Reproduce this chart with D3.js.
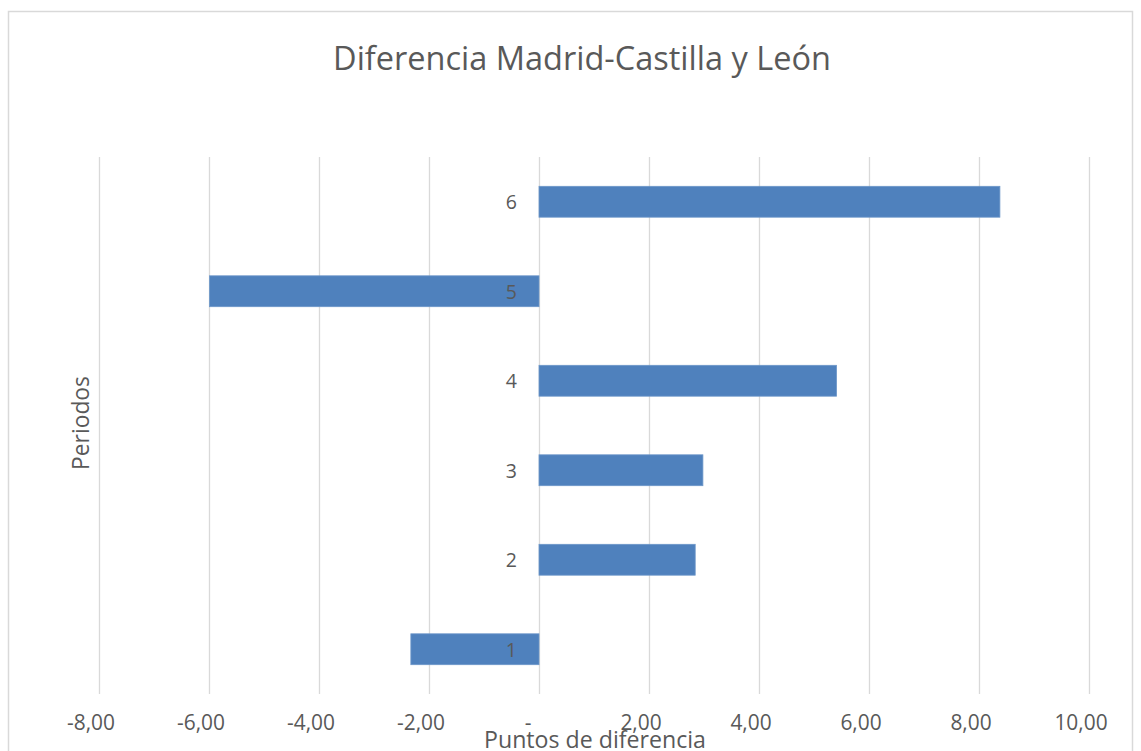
<!DOCTYPE html>
<html><head><meta charset="utf-8">
<script src="https://cdn.jsdelivr.net/npm/d3@7/dist/d3.min.js"></script>
<style>body{margin:0;background:#fff}svg{display:block}text{font-family:"Open Sans","Noto Sans",sans-serif;fill:#595959}</style>
</head><body><svg id="c" width="1141" height="751"></svg>
<script>
const categories = ["1","2","3","4","5","6"];
const values = [-2.33, 2.84, 2.98, 5.41, -5.99, 8.38];
const xTicks = [-8,-6,-4,-2,0,2,4,6,8,10];
const title = "Diferencia Madrid-Castilla y León";
const xTitle = "Puntos de diferencia";
const yTitle = "Periodos";

const svg = d3.select("#c");
const W = 1141, H = 751;
const m = {left:99, right:W-1089, top:157, bottom:H-694};

svg.append("rect").attr("x",8.5).attr("y",11.5).attr("width",1124).attr("height",760)
  .attr("fill","#fff").attr("stroke","#d9d9d9").attr("stroke-width",1.5);

const x = d3.scaleLinear().domain([-8,10]).range([m.left, W-m.right]);
const y = d3.scaleBand().domain(categories.slice().reverse()).range([m.top, H-m.bottom]).paddingInner(0.655).paddingOuter(0.3275);

const fmt = v => v===0 ? "-" : d3.format(".2f")(v).replace(".",",").replace("\u2212","-");

// gridlines
svg.append("g").selectAll("line").data(xTicks).join("line")
  .attr("x1",d=>Math.round(x(d))+0.5).attr("x2",d=>Math.round(x(d))+0.5)
  .attr("y1",m.top).attr("y2",H-m.bottom)
  .attr("stroke","#d9d9d9").attr("stroke-width",1.3);

// bars
svg.append("g").selectAll("rect").data(categories).join("rect")
  .attr("x",(d,i)=>x(Math.min(0,values[i])))
  .attr("width",(d,i)=>Math.abs(x(values[i])-x(0)))
  .attr("y",d=>y(d)).attr("height",y.bandwidth())
  .attr("fill","#4f81bd").attr("stroke","#6d97c9").attr("stroke-width",0.8);

// category labels
svg.append("g").selectAll("text").data(categories).join("text")
  .attr("x",x(0)-22).attr("y",d=>y(d)+y.bandwidth()/2)
  .attr("text-anchor","end").attr("dominant-baseline","central")
  .attr("font-size",19.5).text(d=>d);

// x tick labels
const tl = svg.append("g").selectAll("text").data(xTicks).join("text")
  .attr("x",d=>x(d)-(d===0?11:8)).attr("y",722)
  .attr("text-anchor","middle").attr("dominant-baseline","central")
  .attr("font-size",17).text(fmt);

function fit(sel, target){
  const n = sel.node(); const fs = +sel.attr("font-size");
  const w = n.getComputedTextLength();
  sel.attr("font-size", fs*target/w);
}
fit(tl.filter(d=>d===-8), 48);
tl.attr("font-size", tl.filter(d=>d===-8).attr("font-size"));

const t = svg.append("text").attr("x",582).attr("y",57).attr("text-anchor","middle")
  .attr("dominant-baseline","central").attr("font-size",28).text(title);
fit(t, 498);

const xt = svg.append("text").attr("x",595).attr("y",739).attr("text-anchor","middle")
  .attr("dominant-baseline","central").attr("font-size",18).text(xTitle);
fit(xt, 222);

const yt = svg.append("text").attr("transform","translate(80,423) rotate(-90)").attr("text-anchor","middle")
  .attr("dominant-baseline","central").attr("font-size",18).text(yTitle);
fit(yt, 94);
</script></body></html>
